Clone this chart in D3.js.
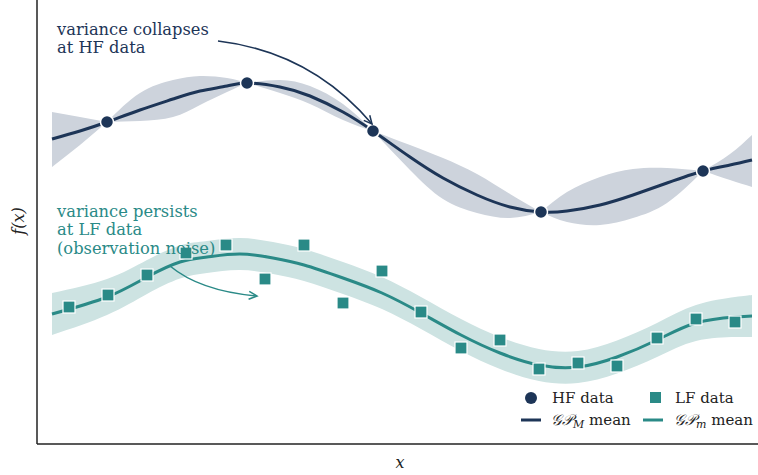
<!DOCTYPE html>
<html>
<head>
<meta charset="utf-8">
<script src="https://cdn.jsdelivr.net/npm/d3@7"></script>
<style>
  html, body { margin: 0; padding: 0; background: #fff; }
  svg { display: block; }
  text { font-family: "DejaVu Serif", serif; }
</style>
</head>
<body>
<svg id="chart" width="758" height="475"></svg>
<script>
// High-fidelity observations
const hfX = [0.55, 1.95, 3.21, 4.89, 6.51];
const hfY = [3.22, 3.61, 3.13, 2.32, 2.73];

// High-fidelity GP posterior on a grid: mean and 2-sigma envelope
const hfGridX  = [0.00, 0.28, 0.55, 0.88, 1.21, 1.48, 1.75, 1.95, 2.28, 2.58, 2.91, 3.21, 3.58, 3.91, 4.25, 4.58, 4.89, 5.15, 5.48, 5.81, 6.15, 6.51, 6.78, 7.00];
const hfMean   = [3.05, 3.13, 3.22, 3.34, 3.45, 3.53, 3.58, 3.61, 3.57, 3.48, 3.32, 3.13, 2.87, 2.66, 2.49, 2.37, 2.32, 2.33, 2.39, 2.49, 2.61, 2.73, 2.79, 2.84];
const hfUpper  = [3.32, 3.27, 3.22, 3.51, 3.64, 3.68, 3.66, 3.61, 3.64, 3.58, 3.40, 3.13, 2.99, 2.86, 2.70, 2.50, 2.32, 2.52, 2.67, 2.75, 2.76, 2.73, 2.90, 3.09];
const hfLower  = [2.77, 2.99, 3.22, 3.23, 3.27, 3.39, 3.52, 3.61, 3.51, 3.40, 3.24, 3.13, 2.74, 2.45, 2.31, 2.26, 2.32, 2.22, 2.19, 2.26, 2.41, 2.73, 2.64, 2.57];

// Low-fidelity (noisy) observations
const lfX = [0.17, 0.56, 0.95, 1.34, 1.74, 2.13, 2.52, 2.91, 3.30, 3.69, 4.09, 4.48, 4.87, 5.26, 5.65, 6.05, 6.44, 6.83];
const lfY = [1.37, 1.49, 1.69, 1.91, 1.99, 1.65, 1.99, 1.41, 1.73, 1.32, 0.96, 1.04, 0.75, 0.81, 0.78, 1.06, 1.25, 1.22];

// Low-fidelity GP posterior: mean and envelope half-width
const lfGridX = [0.00, 0.55, 0.95, 1.28, 1.55, 1.88, 2.21, 2.52, 2.91, 3.30, 3.69, 4.09, 4.48, 4.87, 5.26, 5.65, 6.05, 6.44, 6.83, 7.00];
const lfMean  = [1.30, 1.47, 1.67, 1.82, 1.87, 1.90, 1.86, 1.79, 1.66, 1.51, 1.31, 1.09, 0.91, 0.79, 0.77, 0.87, 1.04, 1.21, 1.27, 1.28];
const lfHalf  = [0.21, 0.18, 0.17, 0.165, 0.16, 0.16, 0.16, 0.16, 0.16, 0.16, 0.16, 0.16, 0.16, 0.16, 0.16, 0.165, 0.17, 0.18, 0.20, 0.21];

// Legend entries
const legendLabels = ["HF data", "LF data", "mean", "mean"];

const navy = "#1d3557";
const teal = "#2a8a87";

const svg = d3.select("#chart");
const W = 758, H = 475;
const plotLeft = 37, plotBottom = 444;

const x = d3.scaleLinear().domain([0, 7]).range([52, 752]);
const y = d3.scaleLinear().domain([0, 4.44]).range([444, 0]);

// ---- HF envelope, drawn piecewise so it pinches to a point at every observation
const hfBand = hfGridX.map((gx, i) => ({ x: gx, lo: hfLower[i], hi: hfUpper[i] }));
const cuts = hfX.map(hx => hfGridX.findIndex(g => Math.abs(g - hx) < 1e-9));
const bounds = [0, ...cuts, hfGridX.length - 1];
const areaHF = d3.area()
  .x(d => x(d.x)).y0(d => y(d.lo)).y1(d => y(d.hi))
  .curve(d3.curveNatural);
for (let k = 0; k < bounds.length - 1; k++) {
  const seg = hfBand.slice(bounds[k], bounds[k + 1] + 1);
  if (seg.length < 2) continue;
  svg.append("path").attr("d", areaHF(seg))
    .attr("fill", "#cdd3dc").attr("stroke", "none");
}

// ---- LF envelope
const lfBand = lfGridX.map((gx, i) => ({ x: gx, m: lfMean[i], h: lfHalf[i] }));
svg.append("path")
  .attr("d", d3.area().x(d => x(d.x)).y0(d => y(d.m - d.h)).y1(d => y(d.m + d.h))
    .curve(d3.curveNatural)(lfBand))
  .attr("fill", "#cde3e2");

// ---- Mean curves
const line = d3.line().x(d => x(d[0])).y(d => y(d[1])).curve(d3.curveNatural);
svg.append("path").attr("d", line(hfGridX.map((g, i) => [g, hfMean[i]])))
  .attr("fill", "none").attr("stroke", navy).attr("stroke-width", 3);
svg.append("path").attr("d", line(lfGridX.map((g, i) => [g, lfMean[i]])))
  .attr("fill", "none").attr("stroke", teal).attr("stroke-width", 3);

// ---- Observations
svg.append("g").selectAll("rect").data(lfX.map((v, i) => [v, lfY[i]])).join("rect")
  .attr("x", d => x(d[0]) - 6).attr("y", d => y(d[1]) - 6)
  .attr("width", 12).attr("height", 12)
  .attr("fill", teal).attr("stroke", "#fff").attr("stroke-width", 1.2);
svg.append("g").selectAll("circle").data(hfX.map((v, i) => [v, hfY[i]])).join("circle")
  .attr("cx", d => x(d[0])).attr("cy", d => y(d[1])).attr("r", 6.5)
  .attr("fill", navy).attr("stroke", "#fff").attr("stroke-width", 1.5);

// ---- Spines
svg.append("line").attr("x1", plotLeft).attr("x2", plotLeft).attr("y1", 0).attr("y2", plotBottom)
  .attr("stroke", "#222").attr("stroke-width", 1.5);
svg.append("line").attr("x1", plotLeft).attr("x2", W).attr("y1", plotBottom).attr("y2", plotBottom)
  .attr("stroke", "#222").attr("stroke-width", 1.5);

// ---- Axis labels
svg.append("text").attr("x", 400).attr("y", 468).attr("text-anchor", "middle")
  .attr("font-style", "italic").attr("font-size", 16).attr("fill", "#222").text("x");
svg.append("text").attr("transform", "translate(24,221) rotate(-90)").attr("text-anchor", "middle")
  .attr("font-style", "italic").attr("font-size", 16).attr("fill", "#222").text("f(x)");

// ---- Annotations
function arrow(p0, c, p1, color) {
  svg.append("path")
    .attr("d", `M${p0[0]},${p0[1]} Q${c[0]},${c[1]} ${p1[0]},${p1[1]}`)
    .attr("fill", "none").attr("stroke", color).attr("stroke-width", 1.5);
  const ang = Math.atan2(p1[1] - c[1], p1[0] - c[0]);
  const L = 9, a = 0.45;
  const h1 = [p1[0] - L * Math.cos(ang - a), p1[1] - L * Math.sin(ang - a)];
  const h2 = [p1[0] - L * Math.cos(ang + a), p1[1] - L * Math.sin(ang + a)];
  svg.append("path")
    .attr("d", `M${h1[0]},${h1[1]} L${p1[0]},${p1[1]} L${h2[0]},${h2[1]}`)
    .attr("fill", "none").attr("stroke", color).attr("stroke-width", 1.5);
}

const hfTarget = [x(hfX[2]) - 1, y(hfY[2]) - 7];
arrow([218, 41], [311, 52], hfTarget, navy);
arrow([x(1.18), y(1.78)], [200, 291], [257, 296], teal);

function multiline(lines, x0, y0, color) {
  const t = svg.append("text").attr("x", x0).attr("y", y0)
    .attr("font-size", 16.3).attr("fill", color);
  lines.forEach((s, i) => t.append("tspan").attr("x", x0).attr("dy", i ? 18.3 : 0).text(s));
}
multiline(["variance collapses", "at HF data"], 57, 35, navy);
multiline(["variance persists", "at LF data", "(observation noise)"], 57, 217, teal);

// ---- Legend
const lg = svg.append("g").attr("font-size", 15).attr("fill", "#222");
lg.append("circle").attr("cx", 531).attr("cy", 398).attr("r", 6).attr("fill", navy);
lg.append("text").attr("x", 552).attr("y", 403).text(legendLabels[0]);
lg.append("rect").attr("x", 650).attr("y", 392).attr("width", 11).attr("height", 11).attr("fill", teal);
lg.append("text").attr("x", 675).attr("y", 403).text(legendLabels[1]);

lg.append("line").attr("x1", 521).attr("x2", 541).attr("y1", 420).attr("y2", 420)
  .attr("stroke", navy).attr("stroke-width", 3);
lg.append("line").attr("x1", 643).attr("x2", 663).attr("y1", 420).attr("y2", 420)
  .attr("stroke", teal).attr("stroke-width", 3);

function gpLabel(x0, sub, label) {
  const t = lg.append("text").attr("x", x0).attr("y", 425);
  t.append("tspan").attr("font-style", "italic").text("𝒢𝒫");
  t.append("tspan").attr("font-style", "italic").attr("font-size", 11).attr("dy", 3).text(sub);
  t.append("tspan").attr("dy", -3).text(" " + label);
}
gpLabel(551, "M", legendLabels[2]);
gpLabel(674, "m", legendLabels[3]);
</script>
</body>
</html>
